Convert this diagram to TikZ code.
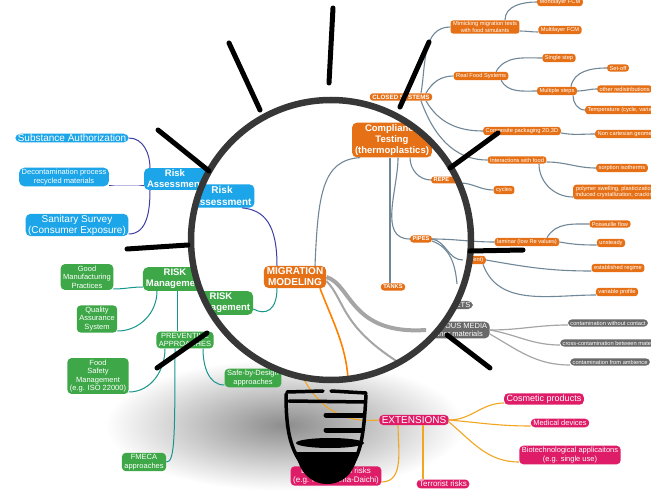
\documentclass[tikz,border=0pt]{standalone}
\usepackage{fontspec}
\setmainfont{Liberation Sans}
\definecolor{fcmorange}{RGB}{230,112,22}
\definecolor{riskblue}{RGB}{28,165,232}
\definecolor{riskgreen}{RGB}{62,168,72}
\definecolor{extpink}{RGB}{222,28,104}
\definecolor{mediagray}{RGB}{105,105,105}
\definecolor{linkslate}{RGB}{112,135,152}
\definecolor{linkindigo}{RGB}{60,62,165}
\definecolor{linkteal}{RGB}{22,150,140}
\definecolor{linkgold}{RGB}{242,165,30}
\definecolor{linkgray}{RGB}{165,165,165}
\definecolor{ringgray}{RGB}{55,55,55}

\begin{document}
\begin{tikzpicture}[x=1pt,y=-1pt,
    bubble/.style={rounded corners=3pt,text=white,align=center,inner xsep=2.5pt,inner ysep=1.5pt},
    leaf/.style={bubble,fill=fcmorange,font=\fontsize{5.7}{6.3}\selectfont},
    hub/.style={bubble,fill=fcmorange,font=\bfseries\fontsize{5.7}{6.3}\selectfont},
    big/.style={bubble,rounded corners=5pt,font=\bfseries\fontsize{9.5}{11}\selectfont,inner xsep=3pt,inner ysep=2pt},
    blueleaf/.style={bubble,rounded corners=5pt,fill=riskblue},
    greenleaf/.style={bubble,rounded corners=4pt,fill=riskgreen,font=\fontsize{7.5}{8.6}\selectfont},
    pinkleaf/.style={bubble,rounded corners=4pt,fill=extpink},
    grayleaf/.style={bubble,rounded corners=4pt,fill=mediagray,font=\fontsize{5.7}{6.3}\selectfont},
    slatelink/.style={draw=linkslate,line width=1.1pt},
    indigolink/.style={draw=linkindigo,line width=1pt},
    teallink/.style={draw=linkteal,line width=1pt},
    goldlink/.style={draw=linkgold,line width=1.1pt},
    ashlink/.style={draw=linkgray,line width=1.2pt},
    ray/.style={line width=5pt,line cap=round,black},
  ]
  \useasboundingbox (0,0) rectangle (651,492);
  \clip (0,0) rectangle (651,492);
  \coordinate (lens) at (331,240);

  % soft shadow under the socket
  \shade[inner color=black!45,outer color=white] (285,425) ellipse (180 and 66);

  % --- mind map outside the lens ---
  \node[leaf] (mono) at (560,2) {Monolayer FCM};
  \node[leaf] (mimic) at (485,27) {Mimicking migration tests\\with food simulants};
  \node[leaf] (multi) at (560,30) {Multilayer FCM};
  \node[leaf] (realfood) at (481,76) {Real Food Systems};
  \node[leaf] (single) at (559,58) {Single step};
  \node[leaf] (multiple) at (557,91) {Multiple steps};
  \node[leaf] (setoff) at (618,68) {Set-off};
  \node[leaf,anchor=west] (redist) at (597,89) {other redistributions};
  \node[leaf,anchor=west] (temp) at (585,110) {Temperature (cycle, variation)};
  \node[hub,font=\bfseries\fontsize{6.2}{7}\selectfont] (closed) at (401,97) {CLOSED SYSTEMS};
  \node[leaf] (composite) at (522,131) {Composite packaging 2D,3D};
  \node[leaf,anchor=west] (noncart) at (595,134) {Non cartesian geometries};
  \node[leaf] (interact) at (517,160) {Interactions with food};
  \node[leaf] (sorption) at (622,168) {sorption isotherms};
  \node[leaf] (cycles) at (504,190) {cycles};
  \node[leaf,anchor=west] (swelling) at (573,192) {polymer swelling, plasticization,\\induced crystallization, cracking};
  \node[leaf] (poiseuille) at (610,224) {Poiseuille flow};
  \node[leaf] (laminar) at (527,242) {laminar (low Re values)};
  \node[leaf] (unsteady) at (611,243) {unsteady};
  \node[leaf,anchor=east] (turb) at (486,260) {\hspace*{8pt}ent)};
  \node[leaf] (established) at (618,268) {established regime};
  \node[leaf] (variable) at (617,292) {variable profile};

  \draw[slatelink] ([xshift=20pt]closed.north) to[out=80,in=180] (mimic.west);
  \draw[slatelink] ([xshift=25pt]closed.north) to[out=60,in=180] (realfood.west);
  \draw[slatelink] ([xshift=25pt]closed.south) to[out=-60,in=180] (composite.west);
  \draw[slatelink] ([xshift=20pt]closed.south) to[out=-70,in=180] (interact.west);
  \draw[slatelink] ([xshift=20pt]mimic.north) to[out=90,in=180] (mono.west);
  \draw[slatelink] ([yshift=-4pt]mimic.east) to[out=0,in=180] ([yshift=-2pt]multi.west);
  \draw[slatelink] ([xshift=15pt]realfood.north) to[out=60,in=180] (single.west);
  \draw[slatelink] ([xshift=20pt]realfood.south) to[out=-60,in=180] (multiple.west);
  \draw[slatelink] ([xshift=14pt]multiple.north) to[out=80,in=180] (setoff.west);
  \draw[slatelink] (multiple.east) to[out=0,in=180] (redist.west);
  \draw[slatelink] ([xshift=16pt]multiple.south) to[out=-90,in=180] (temp.west);
  \draw[slatelink] ([yshift=-2pt]composite.east) to[out=-10,in=180] (noncart.west);
  \draw[slatelink] ([yshift=-2pt]interact.east) to[out=0,in=180] (sorption.west);
  \draw[slatelink] ([xshift=22pt]interact.south) to[out=-90,in=180] ([yshift=-5pt]swelling.west);
  \draw[slatelink] ([xshift=20pt]laminar.north) to[out=60,in=180] (poiseuille.west);
  \draw[slatelink] (laminar.east) to[out=-10,in=180] ([yshift=-2pt]unsteady.west);
  \draw[slatelink] (turb.east) to[out=-10,in=180] ([yshift=-3pt]established.west);
  \draw[slatelink] ([xshift=-3pt]turb.south east) to[out=-70,in=180] ([yshift=-3pt]variable.west);

  % porous media branch
  \node[grayleaf,rounded corners=5pt,anchor=east,font=\fontsize{7.5}{8.5}\selectfont] (ets) at (473,305) {\hspace*{12pt}ETS};
  \node[grayleaf,rounded corners=5pt,font=\fontsize{7.5}{8.5}\selectfont] (porous) at (458,330) {POROUS MEDIA\\other materials};
  \node[grayleaf] (nocontact) at (608,323) {contamination without contact};
  \node[grayleaf,anchor=west] (crosscont) at (560,343) {cross-contamination between materials};
  \node[grayleaf,anchor=west] (ambience) at (570,362) {contamination from ambience};
  \draw[ashlink] (porous.east) to[out=0,in=180] ([yshift=-2pt]nocontact.west);
  \draw[ashlink] (porous.east) to[out=-10,in=180] ([yshift=-2pt]crosscont.west);
  \draw[ashlink] ([yshift=-4pt]porous.east) to[out=-30,in=180] ([yshift=-3pt]ambience.west);

  % risk assessment
  \node[blueleaf,big] (raout) at (175,179) {Risk\\Assessment};
  \node[blueleaf,font=\fontsize{10}{11}\selectfont,inner ysep=0.6pt] (subst) at (72,138) {Substance Authorization};
  \node[blueleaf,font=\fontsize{7.5}{8.6}\selectfont] (decon) at (64,177) {Decontamination process\\recycled materials};
  \node[blueleaf,font=\fontsize{10}{11}\selectfont,inner ysep=1pt] (sanitary) at (77,225) {Sanitary Survey\\(Consumer Exposure)};
  \draw[indigolink] (subst.east) to[out=0,in=90] ([xshift=-25pt]raout.north);
  \draw[indigolink] ([yshift=-7pt]raout.west) to[out=180,in=0] ([yshift=-9pt]decon.east);
  \draw[indigolink] ([xshift=-25pt]raout.south) to[out=-90,in=0] ([yshift=-9pt]sanitary.east);

  % risk management
  \node[greenleaf,big] (rmout) at (175,279) {RISK\\Management};
  \node[greenleaf] (gmp) at (87,277) {Good\\Manufacturing\\Practices};
  \node[greenleaf] (qas) at (97,319) {Quality\\Assurance\\System};
  \node[greenleaf] (prev) at (185,340) {PREVENTIVE\\APPROACHES};
  \node[greenleaf] (fsm) at (98,376) {Food\\Safety\\Management\\(e.g. ISO 22000)};
  \node[greenleaf] (sbd) at (253,378) {Safe-by-Design\\approaches};
  \node[greenleaf] (fmeca) at (144,462) {FMECA\\approaches};
  \draw[teallink] ([yshift=-8pt]rmout.west) to[out=180,in=0] ([yshift=-12pt]gmp.east);
  \draw[teallink] ([xshift=-18pt]rmout.south) to[out=-90,in=0] ([yshift=-12pt]qas.east);
  \draw[teallink] ([xshift=2pt]rmout.south) -- ([xshift=2pt]rmout.south |- prev.north);
  \draw[teallink] ([xshift=-20pt]prev.south) to[out=-90,in=0] ([yshift=-16pt]fsm.east);
  \draw[teallink] ([xshift=-10pt]prev.south) .. controls +(0,95) and +(8,0) .. (fmeca.east);
  \draw[teallink] ([xshift=18pt]prev.south) to[out=-90,in=180] ([yshift=-7pt]sbd.west);

  % extensions
  \node[pinkleaf,font=\fontsize{10}{12}\selectfont] (ext) at (414,420) {EXTENSIONS};
  \node[pinkleaf,font=\fontsize{9}{10}\selectfont] (cosm) at (544,399) {Cosmetic products};
  \node[pinkleaf,font=\fontsize{7.5}{8.6}\selectfont] (med) at (560,423) {Medical devices};
  \node[pinkleaf,font=\fontsize{7.5}{8.6}\selectfont] (bio) at (570,455) {Biotechnological applicaitons\\(e.g. single use)};
  \node[pinkleaf,font=\fontsize{8}{9}\selectfont] (terror) at (443,484) {Terrorist risks};
  \node[pinkleaf,font=\fontsize{8}{9}\selectfont] (envrisk) at (336,476) {Environmental risks\\(e.g. Fukushima-Daichi)};
  \draw[goldlink] (ext.east) to[out=0,in=180] ([yshift=-4pt]cosm.west);
  \draw[goldlink] (ext.east) to[out=-5,in=180] ([yshift=-3pt]med.west);
  \draw[goldlink] ([yshift=-2pt]ext.east) to[out=-40,in=180] ([yshift=-7pt]bio.west);
  \draw[goldlink] ([xshift=9pt]ext.south) -- ([xshift=9pt]ext.south |- terror.north);
  \draw[goldlink] ([xshift=-16pt]ext.south) to[out=-90,in=0] ([yshift=-6pt]envrisk.east);
  \coordinate (extsrc) at (302,376);
  \draw[goldlink] (extsrc) .. controls (315,400) and (335,424) .. (ext.west);

  % --- inside the lens ---
  \fill[white] (lens) circle[radius=140];
  \begin{scope}
    \clip (lens) circle[radius=140];
    \node[big,fill=fcmorange] (ct) at (392,140) {Compliance\\Testing\\(thermoplastics)};
    \node[big,fill=fcmorange,font=\bfseries\fontsize{10}{11}\selectfont] (mm) at (295,277) {MIGRATION\\MODELING};
    \node[blueleaf,big,font=\bfseries\fontsize{10}{12}\selectfont] (rain) at (222,196) {Risk\\Assessment};
    \node[greenleaf,big] (rmin) at (221,303) {RISK\\Management};
    \node[hub] (pipes) at (421,239) {PIPES};
    \node[hub] (tanks) at (393,287) {TANKS};
    \node[hub,anchor=west] (repe) at (431,180) {REPE\hspace*{8pt}};
  \end{scope}
  \coordinate (pdown) at (457,284);
  \coordinate (gdown) at (398,362);
  \coordinate (extlens) at (348,379);
  \draw[indigolink] ([xshift=-18pt]mm.north) .. controls (277,225) and (265,210) .. ([xshift=20pt]rain.south);
  \draw[teallink] ([xshift=-18pt]mm.south) .. controls (277,310) and (266,316) .. ([yshift=-6pt]rmin.east);
  \draw[slatelink] ([xshift=20pt]mm.north) .. controls (318,195) and (322,160) .. ([xshift=-32pt]ct.south);
  \draw[slatelink] ([xshift=-2pt]ct.south) -- ([xshift=-2pt]ct.south |- tanks.north);
  \draw[slatelink] ([xshift=6pt]ct.south) to[out=-90,in=180] (pipes.west);
  \draw[slatelink] ([xshift=18pt]ct.south) to[out=-90,in=180] (repe.west);
  \draw[slatelink] (pipes.east) to[out=0,in=180] (laminar.west);
  \draw[slatelink] (pipes.east) to[out=-10,in=180] (turb.west);
  \draw[slatelink] ([yshift=-2pt]pipes.east) to[out=-20,in=95] (pdown);
  \draw[slatelink] ([yshift=-3pt]repe.east) to[out=0,in=180] (cycles.west);
  \draw[draw=linkgray,line width=4pt] (mm.east) .. controls (352,285) and (350,335) .. (porous.west);
  \draw[ashlink,line width=2pt] ([yshift=-4pt]mm.east) .. controls (345,300) and (340,325) .. (gdown);
  \draw[draw=orange,line width=1.6pt] ([xshift=25pt]mm.south) .. controls (332,320) and (346,345) .. (extlens);

  % lens ring
  \draw[line width=6.5pt,ringgray] (lens) circle[radius=140];

  % socket
  \begin{scope}[line width=3.5pt,line cap=round,line join=round]
    \draw (287,392) -- (323,391) (331,391) -- (366,393);
    \draw (289,401) -- (365,402);
    \draw (286,394) .. controls (286,430) and (290,450) .. (305,468);
    \draw (366,395) .. controls (364,430) and (362,452) .. (350,468);
    \draw[line width=5pt] (326,415) -- (362,415) (326,430) -- (361,430);
    \fill (330,443) ellipse (34 and 5);
    \fill (296,452) .. controls (298,470) and (310,484) .. (327,484) .. controls (345,484) and (356,470) .. (358,452) -- cycle;
  \end{scope}

  % rays
  \foreach \xa/\ya/\xb/\yb in {333/8/329/83, 229/43/260/110, 429/42/400/107,
      158/130/209/171, 127/249/188/245, 450/168/498/133, 470/251/523/250,
      447/335/490/368, 157/368/207/333}
    \draw[ray] (\xa,\ya) -- (\xb,\yb);
\end{tikzpicture}
\end{document}
